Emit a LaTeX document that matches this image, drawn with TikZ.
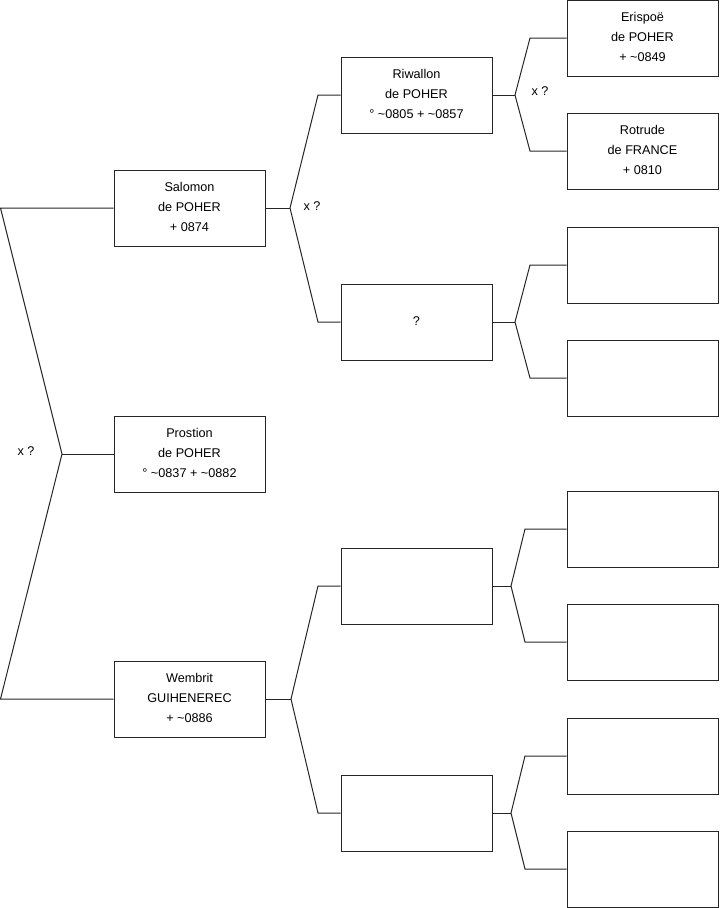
\documentclass[tikz,border=0pt]{standalone}
\usepackage{fontspec}
\setmainfont{Liberation Sans}
\begin{document}
\begin{tikzpicture}[x=0.75pt,y=-0.75pt,
  person/.style={draw=black!85, line width=0.75pt, minimum width=113.25pt, minimum height=57pt,
    inner sep=0pt, align=center, font=\fontsize{9.5}{15}\selectfont},
  link/.style={draw=black!85, line width=0.75pt},
  unionlabel/.style={font=\fontsize{9.5}{11}\selectfont, inner sep=0pt}]
\useasboundingbox (0,0) rectangle (719,908);
% generation 1
\node[person] (S) at (189.5,208) {Salomon\\de POHER\\+ 0874\rule[-2.2pt]{0pt}{1pt}};
\node[person] (P) at (189.5,454) {Prostion\\de POHER\\° \textasciitilde0837 + \textasciitilde0882\rule[-2.2pt]{0pt}{1pt}};
\node[person] (W) at (189.5,699) {Wembrit\\GUIHENEREC\\+ \textasciitilde0886\rule[-2.2pt]{0pt}{1pt}};
% generation 2
\node[person] (R) at (416.5,95) {Riwallon\\de POHER\\° \textasciitilde0805 + \textasciitilde0857\rule[-2.2pt]{0pt}{1pt}};
\node[person] (Q) at (416.5,322) {?\rule[-1.5pt]{0pt}{1pt}};
\node[person] (B1) at (416.5,586) {};
\node[person] (B2) at (416.5,813) {};
% generation 3
\node[person] (E) at (642.5,38) {Erispoë\\de POHER\\+ \textasciitilde0849\rule[-2.2pt]{0pt}{1pt}};
\node[person] (Ro) at (642.5,151) {Rotrude\\de FRANCE\\+ 0810\rule[-2.2pt]{0pt}{1pt}};
\node[person] (C1) at (642.5,265) {};
\node[person] (C2) at (642.5,378) {};
\node[person] (C3) at (642.5,529) {};
\node[person] (C4) at (642.5,642) {};
\node[person] (C5) at (642.5,756) {};
\node[person] (C6) at (642.5,869) {};
% junctions
\coordinate (r0) at (0.5,208);
\coordinate (j0) at (62,454);
\coordinate (r1) at (0.5,699);
\coordinate (jS) at (290,208);
\coordinate (jS1) at (318,95);
\coordinate (jS2) at (318,322);
\coordinate (jW) at (291,699);
\coordinate (jW1) at (318,586);
\coordinate (jW2) at (318,813);
\coordinate (jR) at (515,95);
\coordinate (jR1) at (530,38);
\coordinate (jR2) at (530,151);
\coordinate (jQ) at (515,322);
\coordinate (jQ1) at (530,265);
\coordinate (jQ2) at (530,378);
\coordinate (jB1) at (511,586);
\coordinate (jB11) at (525,529);
\coordinate (jB12) at (525,642);
\coordinate (jB2) at (511,813);
\coordinate (jB21) at (525,756);
\coordinate (jB22) at (525,869);
% connectors
\draw[link] (S.west) -- (r0) -- (j0) -- (r1) -- (W.west);
\draw[link] (j0) -- (P.west);
\draw[link] (S.east) -- (jS);
\draw[link] (R.west) -- (jS1) -- (jS) -- (jS2) -- (Q.west);
\draw[link] (W.east) -- (jW);
\draw[link] (B1.west) -- (jW1) -- (jW) -- (jW2) -- (B2.west);
\draw[link] (R.east) -- (jR);
\draw[link] (E.west) -- (jR1) -- (jR) -- (jR2) -- (Ro.west);
\draw[link] (Q.east) -- (jQ);
\draw[link] (C1.west) -- (jQ1) -- (jQ) -- (jQ2) -- (C2.west);
\draw[link] (B1.east) -- (jB1);
\draw[link] (C3.west) -- (jB11) -- (jB1) -- (jB12) -- (C4.west);
\draw[link] (B2.east) -- (jB2);
\draw[link] (C5.west) -- (jB21) -- (jB2) -- (jB22) -- (C6.west);
% labels
\node[unionlabel] (m0) at (26,451) {x ?};
\node[unionlabel] (m1) at (312,206) {x ?};
\node[unionlabel] (m2) at (540,91) {x ?};
\end{tikzpicture}
\end{document}
